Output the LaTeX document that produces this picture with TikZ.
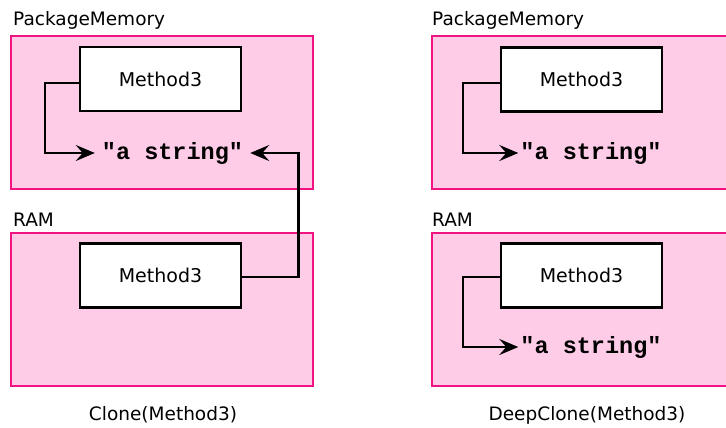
\documentclass[tikz,border=0pt]{standalone}
\usepackage{fontspec}
\setmainfont{DejaVu Sans}
\newfontfamily\strfont{Liberation Mono}
\usetikzlibrary{arrows.meta}
\definecolor{panelfill}{RGB}{255,204,232}
\definecolor{paneldraw}{RGB}{240,20,130}
\tikzset{
  panel/.style={draw=paneldraw,fill=panelfill,line width=1.5pt},
  mbox/.style={draw=black,fill=white,line width=2.5pt,minimum width=161pt,minimum height=64pt,inner sep=0pt,font=\fontsize{19}{21}\selectfont},
  strnode/.style={inner ysep=0pt,font=\strfont\bfseries\fontsize{23.5}{25}\selectfont},
  lbl/.style={anchor=west,inner sep=0pt,font=\fontsize{18.5}{20}\selectfont},
  captext/.style={inner sep=0pt,font=\fontsize{18.5}{20}\selectfont},
  conn/.style={draw=black,line width=2.5pt,-{Stealth[length=19pt,width=16pt,inset=7pt]}},
}
\begin{document}
\begin{tikzpicture}[x=1pt,y=-1pt]
\useasboundingbox (0,0) rectangle (726,428);
% panels
\path[panel] (11,36) rectangle (313,189);
\path[panel] (11,233) rectangle (313,386);
\path[panel] (432,36) rectangle (740,189);
\path[panel] (432,233) rectangle (740,386);
% labels
\node[lbl] (l1) at (13,20) {PackageMemory};
\node[lbl] (l2) at (13,220) {RAM};
\node[lbl] (l3) at (432,20) {PackageMemory};
\node[lbl] (l4) at (432,220) {RAM};
% method boxes
\node[mbox] (m1) at (160.5,79) {Method3};
\node[mbox] (m2) at (160.5,275.5) {Method3};
\node[mbox] (m3) at (581.5,79.5) {Method3};
\node[mbox] (m4) at (581.5,275.5) {Method3};
% strings
\node[strnode,inner xsep=7pt] (s1) at (172.5,153) {"a string"};
\node[strnode,inner xsep=2pt] (s3) at (591,153) {"a string"};
\node[strnode,inner xsep=2pt] (s4) at (591,347) {"a string"};
% connectors
\draw[conn] ([yshift=-4pt]m1.west) -- ++(-34,0) |- (s1.west);
\draw[conn] ([yshift=-1.5pt]m2.east) -- ++(56,0) |- (s1.east);
\draw[conn] ([yshift=-3.5pt]m3.west) -- ++(-37,0) |- (s3.west);
\draw[conn] ([yshift=-1.5pt]m4.west) -- ++(-37,0) |- (s4.west);
% captions
\node[captext] (c1) at (163,415) {Clone(Method3)};
\node[captext] (c2) at (587,415) {DeepClone(Method3)};
\end{tikzpicture}
\end{document}
